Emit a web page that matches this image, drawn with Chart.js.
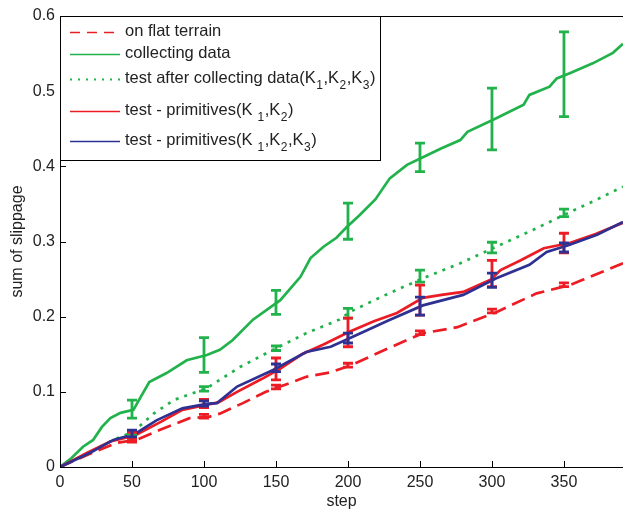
<!DOCTYPE html>
<html>
<head>
<meta charset="utf-8">
<script src="https://cdn.jsdelivr.net/npm/chart.js@4.4.0/dist/chart.umd.min.js"></script>
<style>
  html, body { margin: 0; padding: 0; background: #fff; }
  #wrap { width: 623px; height: 513px; }
</style>
</head>
<body>
<div id="wrap"><canvas id="chart" width="623" height="513"></canvas></div>
<script>
// ---- data ----
const xTickLabels = ['0', '50', '100', '150', '200', '250', '300', '350'];
const yTickLabels = ['0', '0.1', '0.2', '0.3', '0.4', '0.5', '0.6'];

// "_x" marks a subscript character
const seriesLabels = [
  'on flat terrain',
  'collecting data',
  'test after collecting data(K_1,K_2,K_3)',
  'test - primitives(K _1,K_2)',
  'test - primitives(K _1,K_2,K_3)'
];

const flatSteps = [0, 20, 39, 53, 70, 90, 104, 111, 127, 143, 153, 171, 188, 203, 228, 252, 276, 303, 331, 354, 363, 391];
const flatValues = [0, 0.017, 0.032, 0.036, 0.05, 0.065, 0.067, 0.071, 0.085, 0.1, 0.107, 0.12, 0.126, 0.136, 0.158, 0.178, 0.186, 0.206, 0.231, 0.242, 0.249, 0.271];

const collectSteps = [0, 8, 16, 23, 29, 35, 42, 51, 56, 62, 74, 88, 102, 111, 120, 134, 153, 167, 174, 183, 192, 199, 208, 219, 229, 241, 252, 265, 278, 283, 303, 322, 326, 340, 345, 354, 370, 384, 391];
const collectValues = [0, 0.012, 0.027, 0.036, 0.053, 0.065, 0.072, 0.076, 0.093, 0.113, 0.125, 0.142, 0.149, 0.156, 0.169, 0.196, 0.222, 0.253, 0.278, 0.293, 0.305, 0.319, 0.335, 0.356, 0.384, 0.402, 0.412, 0.424, 0.435, 0.446, 0.464, 0.482, 0.495, 0.506, 0.517, 0.524, 0.537, 0.551, 0.563];

const afterSteps = [0, 20, 37, 51, 65, 79, 102, 125, 148, 171, 194, 201, 225, 252, 278, 303, 328, 353, 372, 391];
const afterValues = [0, 0.019, 0.036, 0.047, 0.071, 0.089, 0.105, 0.133, 0.156, 0.178, 0.196, 0.206, 0.228, 0.251, 0.271, 0.293, 0.315, 0.338, 0.355, 0.373];

const primK12Steps = [0, 20, 35, 52, 70, 85, 102, 110, 123, 140, 153, 168, 183, 201, 218, 234, 252, 265, 280, 299, 306, 320, 336, 354, 372, 391];
const primK12Values = [0, 0.02, 0.034, 0.042, 0.06, 0.076, 0.083, 0.086, 0.1, 0.117, 0.131, 0.15, 0.163, 0.18, 0.194, 0.205, 0.225, 0.229, 0.233, 0.249, 0.262, 0.275, 0.291, 0.298, 0.31, 0.325];

const primK123Steps = [0, 21, 37, 52, 67, 85, 102, 109, 123, 148, 171, 188, 203, 228, 252, 280, 303, 326, 338, 353, 373, 391];
const primK123Values = [0, 0.019, 0.036, 0.044, 0.062, 0.078, 0.084, 0.085, 0.107, 0.129, 0.153, 0.16, 0.173, 0.195, 0.215, 0.229, 0.251, 0.269, 0.286, 0.295, 0.309, 0.326];

// error bars at these steps: [low, high]
const errSteps = [50, 100, 150, 200, 250, 300, 350];
const flatErr = [[0.033, 0.038], [0.065, 0.07], [0.104, 0.109], [0.133, 0.138], [0.176, 0.181], [0.205, 0.21], [0.24, 0.245]];
const collectErr = [[0.065, 0.089], [0.126, 0.172], [0.203, 0.235], [0.303, 0.351], [0.393, 0.431], [0.422, 0.504], [0.466, 0.579]];
const afterErr = [[0.043, 0.048], [0.101, 0.107], [0.155, 0.161], [0.198, 0.211], [0.246, 0.262], [0.285, 0.299], [0.333, 0.343]];
const primK12Err = [[0.035, 0.046], [0.079, 0.09], [0.116, 0.145], [0.16, 0.198], [0.202, 0.242], [0.24, 0.275], [0.285, 0.311]];
const primK123Err = [[0.04, 0.049], [0.081, 0.088], [0.127, 0.137], [0.165, 0.178], [0.202, 0.226], [0.239, 0.258], [0.286, 0.298]];

const RED = '#ec1c24';
const GREEN = '#22b24c';
const BLUE = '#2e3192';
const TEXT = '#222';
const FONT = '"Liberation Sans", Arial, sans-serif';

function pts(xs, ys) {
  return xs.map((x, i) => ({ x: x, y: ys[i] }));
}

const series = [
  { data: pts(flatSteps, flatValues), err: flatErr, color: RED, dash: [14, 7], legendDash: [10, 7], order: 4 },
  { data: pts(collectSteps, collectValues), err: collectErr, color: GREEN, dash: [], legendDash: [], order: 3 },
  { data: pts(afterSteps, afterValues), err: afterErr, color: GREEN, dash: [3, 6], legendDash: [2, 6], order: 2 },
  { data: pts(primK12Steps, primK12Values), err: primK12Err, color: RED, dash: [], legendDash: [], order: 1 },
  { data: pts(primK123Steps, primK123Values), err: primK123Err, color: BLUE, dash: [], legendDash: [], order: 0 }
];

/* error bars, inward ticks, top border and the boxed legend */
const extras = {
  id: 'extras',
  afterDatasetsDraw(chart) {
    const { ctx, scales: { x, y } } = chart;
    ctx.save();
    ctx.lineWidth = 2.8;
    ctx.setLineDash([]);
    series.slice().sort((a, b) => b.order - a.order).forEach(s => {
      ctx.strokeStyle = s.color;
      errSteps.forEach((st, i) => {
        const px = x.getPixelForValue(st);
        const lo = y.getPixelForValue(s.err[i][0]);
        const hi = y.getPixelForValue(s.err[i][1]);
        ctx.beginPath();
        ctx.moveTo(px, lo); ctx.lineTo(px, hi);
        ctx.moveTo(px - 5, lo); ctx.lineTo(px + 5, lo);
        ctx.moveTo(px - 5, hi); ctx.lineTo(px + 5, hi);
        ctx.stroke();
      });
    });
    ctx.restore();
  },
  afterDraw(chart) {
    const { ctx, chartArea: a, scales: { x, y } } = chart;
    ctx.save();
    ctx.strokeStyle = '#000';
    ctx.lineWidth = 1;
    ctx.beginPath();
    ctx.moveTo(a.left, a.top + 0.5); ctx.lineTo(a.right, a.top + 0.5);
    x.ticks.forEach(t => {
      const px = Math.round(x.getPixelForValue(t.value)) + 0.5;
      ctx.moveTo(px, a.bottom); ctx.lineTo(px, a.bottom - 6);
    });
    y.ticks.forEach(t => {
      const py = Math.round(y.getPixelForValue(t.value)) + 0.5;
      ctx.moveTo(a.left, py); ctx.lineTo(a.left + 6, py);
    });
    ctx.stroke();

    // legend box
    const bx = a.left + 0.5, by = a.top + 0.5, bw = 320, bh = 144;
    ctx.fillStyle = '#fff';
    ctx.fillRect(bx, by, bw, bh);
    ctx.strokeRect(bx, by, bw, bh);

    const rowY = [32, 54, 79, 111, 141];
    series.forEach((s, i) => {
      const ry = rowY[i];
      ctx.strokeStyle = s.color;
      ctx.lineWidth = s.legendDash.length === 2 && s.legendDash[0] < 3 ? 2 : 1.5;
      ctx.setLineDash(s.legendDash);
      ctx.beginPath();
      ctx.moveTo(70, ry + 0.5); ctx.lineTo(120, ry + 0.5);
      ctx.stroke();
      ctx.setLineDash([]);

      // text with subscripts
      let tx = 125;
      ctx.fillStyle = TEXT;
      ctx.textBaseline = 'middle';
      const parts = seriesLabels[i].split(/_(.)/);
      parts.forEach((p, k) => {
        if (k % 2 === 1) {
          ctx.font = '12px ' + FONT;
          ctx.fillText(p, tx + 0.5, ry + 7);
          tx += ctx.measureText(p).width + 1;
        } else {
          ctx.font = '16.5px ' + FONT;
          ctx.fillText(p, tx, ry - 1);
          tx += ctx.measureText(p).width;
        }
      });
    });
    ctx.restore();
  }
};

new Chart(document.getElementById('chart'), {
  type: 'line',
  data: {
    datasets: series.map((s, i) => ({
      label: seriesLabels[i],
      data: s.data,
      borderColor: s.color,
      borderDash: s.dash,
      borderWidth: 2.7,
      borderCapStyle: 'butt',
      pointRadius: 0,
      fill: false,
      tension: 0,
      order: s.order
    }))
  },
  options: {
    responsive: false,
    animation: false,
    devicePixelRatio: 1,
    layout: { padding: { top: 16, right: 0, left: 0, bottom: 0 } },
    plugins: { legend: { display: false }, tooltip: { enabled: false } },
    scales: {
      x: {
        type: 'linear',
        min: 0,
        max: 391,
        grid: { display: false, drawTicks: false },
        border: { display: true, color: '#000', width: 1 },
        ticks: {
          stepSize: 50,
          includeBounds: false,
          maxRotation: 0,
          padding: 6,
          color: TEXT,
          font: { family: FONT, size: 16 },
          callback: (v, i) => xTickLabels[i]
        },
        title: { display: true, text: 'step', color: TEXT, font: { family: FONT, size: 16 }, padding: { top: 0, bottom: 2 } },
        afterFit: s => { s.height = 46; }
      },
      y: {
        type: 'linear',
        min: 0,
        max: 0.6,
        grid: { display: false, drawTicks: false },
        border: { display: true, color: '#000', width: 1 },
        ticks: {
          stepSize: 0.1,
          padding: 5,
          color: TEXT,
          font: { family: FONT, size: 16 },
          callback: (v, i) => yTickLabels[i]
        },
        title: { display: true, text: 'sum of slippage', color: TEXT, font: { family: FONT, size: 16 }, padding: { top: 8, bottom: 0 } },
        afterFit: s => { s.width = 60; }
      }
    }
  },
  plugins: [extras]
});
</script>
</body>
</html>
